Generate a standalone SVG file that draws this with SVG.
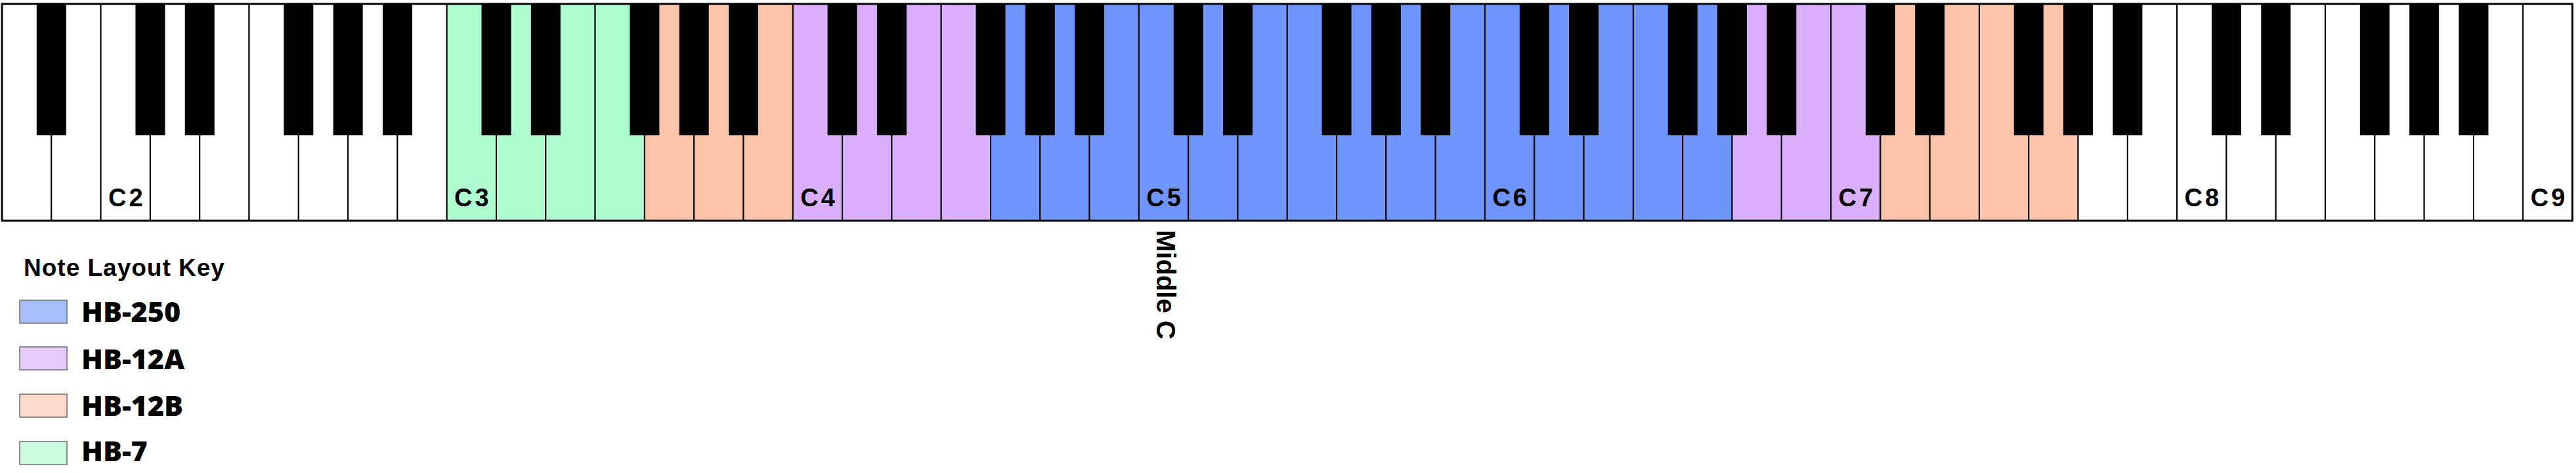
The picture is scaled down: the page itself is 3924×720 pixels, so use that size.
<svg xmlns="http://www.w3.org/2000/svg" width="3924" height="720" viewBox="0 0 3924 720">
<style>
.wk{stroke:#000;stroke-width:2}
.w{fill:#fff}.g{fill:#aefcd0}.p{fill:#fdc4aa}.v{fill:#dab0fc}.b{fill:#7095fd}
.bk{fill:#000}
.lbl{font-family:"Liberation Sans",Arial,sans-serif;font-weight:bold;font-size:38px;letter-spacing:4px;text-anchor:middle;fill:#000}
.leg{font-family:"Open Sans","Liberation Sans",sans-serif;font-weight:800;font-size:43px;fill:#000}
.sw{stroke:#6e6e6e;stroke-width:1.5}
</style>
<rect width="3924" height="720" fill="#fff"/>
<g id="white-keys">
<rect class="wk w" x="3" y="6" width="75.3" height="330"/>
<rect class="wk w" x="78.3" y="6" width="75.3" height="330"/>
<rect class="wk w" x="153.6" y="6" width="75.3" height="330"/>
<rect class="wk w" x="228.9" y="6" width="75.3" height="330"/>
<rect class="wk w" x="304.2" y="6" width="75.3" height="330"/>
<rect class="wk w" x="379.5" y="6" width="75.3" height="330"/>
<rect class="wk w" x="454.8" y="6" width="75.3" height="330"/>
<rect class="wk w" x="530.1" y="6" width="75.3" height="330"/>
<rect class="wk w" x="605.4" y="6" width="75.3" height="330"/>
<rect class="wk g" x="680.7" y="6" width="75.3" height="330"/>
<rect class="wk g" x="756" y="6" width="75.3" height="330"/>
<rect class="wk g" x="831.3" y="6" width="75.3" height="330"/>
<rect class="wk g" x="906.6" y="6" width="75.3" height="330"/>
<rect class="wk p" x="981.9" y="6" width="75.3" height="330"/>
<rect class="wk p" x="1057.2" y="6" width="75.3" height="330"/>
<rect class="wk p" x="1132.5" y="6" width="75.3" height="330"/>
<rect class="wk v" x="1207.8" y="6" width="75.3" height="330"/>
<rect class="wk v" x="1283.1" y="6" width="75.3" height="330"/>
<rect class="wk v" x="1358.4" y="6" width="75.3" height="330"/>
<rect class="wk v" x="1433.7" y="6" width="75.3" height="330"/>
<rect class="wk b" x="1509" y="6" width="75.3" height="330"/>
<rect class="wk b" x="1584.3" y="6" width="75.3" height="330"/>
<rect class="wk b" x="1659.6" y="6" width="75.3" height="330"/>
<rect class="wk b" x="1734.9" y="6" width="75.3" height="330"/>
<rect class="wk b" x="1810.2" y="6" width="75.3" height="330"/>
<rect class="wk b" x="1885.5" y="6" width="75.3" height="330"/>
<rect class="wk b" x="1960.8" y="6" width="75.3" height="330"/>
<rect class="wk b" x="2036.1" y="6" width="75.3" height="330"/>
<rect class="wk b" x="2111.4" y="6" width="75.3" height="330"/>
<rect class="wk b" x="2186.7" y="6" width="75.3" height="330"/>
<rect class="wk b" x="2262" y="6" width="75.3" height="330"/>
<rect class="wk b" x="2337.3" y="6" width="75.3" height="330"/>
<rect class="wk b" x="2412.6" y="6" width="75.3" height="330"/>
<rect class="wk b" x="2487.9" y="6" width="75.3" height="330"/>
<rect class="wk b" x="2563.2" y="6" width="75.3" height="330"/>
<rect class="wk v" x="2638.5" y="6" width="75.3" height="330"/>
<rect class="wk v" x="2713.8" y="6" width="75.3" height="330"/>
<rect class="wk v" x="2789.1" y="6" width="75.3" height="330"/>
<rect class="wk p" x="2864.4" y="6" width="75.3" height="330"/>
<rect class="wk p" x="2939.7" y="6" width="75.3" height="330"/>
<rect class="wk p" x="3015" y="6" width="75.3" height="330"/>
<rect class="wk p" x="3090.3" y="6" width="75.3" height="330"/>
<rect class="wk w" x="3165.6" y="6" width="75.3" height="330"/>
<rect class="wk w" x="3240.9" y="6" width="75.3" height="330"/>
<rect class="wk w" x="3316.2" y="6" width="75.3" height="330"/>
<rect class="wk w" x="3391.5" y="6" width="75.3" height="330"/>
<rect class="wk w" x="3466.8" y="6" width="75.3" height="330"/>
<rect class="wk w" x="3542.1" y="6" width="75.3" height="330"/>
<rect class="wk w" x="3617.4" y="6" width="75.3" height="330"/>
<rect class="wk w" x="3692.7" y="6" width="75.3" height="330"/>
<rect class="wk w" x="3768" y="6" width="75.3" height="330"/>
<rect class="wk w" x="3843.3" y="6" width="75.3" height="330"/>
</g>
<g id="black-keys">
<rect class="bk" x="55.8" y="6" width="45" height="200"/>
<rect class="bk" x="206.4" y="6" width="45" height="200"/>
<rect class="bk" x="281.7" y="6" width="45" height="200"/>
<rect class="bk" x="432.3" y="6" width="45" height="200"/>
<rect class="bk" x="507.6" y="6" width="45" height="200"/>
<rect class="bk" x="582.9" y="6" width="45" height="200"/>
<rect class="bk" x="733.5" y="6" width="45" height="200"/>
<rect class="bk" x="808.8" y="6" width="45" height="200"/>
<rect class="bk" x="959.4" y="6" width="45" height="200"/>
<rect class="bk" x="1034.7" y="6" width="45" height="200"/>
<rect class="bk" x="1110" y="6" width="45" height="200"/>
<rect class="bk" x="1260.6" y="6" width="45" height="200"/>
<rect class="bk" x="1335.9" y="6" width="45" height="200"/>
<rect class="bk" x="1486.5" y="6" width="45" height="200"/>
<rect class="bk" x="1561.8" y="6" width="45" height="200"/>
<rect class="bk" x="1637.1" y="6" width="45" height="200"/>
<rect class="bk" x="1787.7" y="6" width="45" height="200"/>
<rect class="bk" x="1863" y="6" width="45" height="200"/>
<rect class="bk" x="2013.6" y="6" width="45" height="200"/>
<rect class="bk" x="2088.9" y="6" width="45" height="200"/>
<rect class="bk" x="2164.2" y="6" width="45" height="200"/>
<rect class="bk" x="2314.8" y="6" width="45" height="200"/>
<rect class="bk" x="2390.1" y="6" width="45" height="200"/>
<rect class="bk" x="2540.7" y="6" width="45" height="200"/>
<rect class="bk" x="2616" y="6" width="45" height="200"/>
<rect class="bk" x="2691.3" y="6" width="45" height="200"/>
<rect class="bk" x="2841.9" y="6" width="45" height="200"/>
<rect class="bk" x="2917.2" y="6" width="45" height="200"/>
<rect class="bk" x="3067.8" y="6" width="45" height="200"/>
<rect class="bk" x="3143.1" y="6" width="45" height="200"/>
<rect class="bk" x="3218.4" y="6" width="45" height="200"/>
<rect class="bk" x="3369" y="6" width="45" height="200"/>
<rect class="bk" x="3444.3" y="6" width="45" height="200"/>
<rect class="bk" x="3594.9" y="6" width="45" height="200"/>
<rect class="bk" x="3670.2" y="6" width="45" height="200"/>
<rect class="bk" x="3745.5" y="6" width="45" height="200"/>
</g>
<rect id="outline" x="3" y="6" width="3915.6" height="330" fill="none" stroke="#000" stroke-width="3"/>
<g id="octave-labels">
<text class="lbl" x="193.3" y="314">C2</text>
<text class="lbl" x="720.4" y="314">C3</text>
<text class="lbl" x="1247.5" y="314">C4</text>
<text class="lbl" x="1774.6" y="314">C5</text>
<text class="lbl" x="2301.7" y="314">C6</text>
<text class="lbl" x="2828.8" y="314">C7</text>
<text class="lbl" x="3355.9" y="314">C8</text>
<text class="lbl" x="3883" y="314">C9</text>
</g>
<g id="middle-c">
<text transform="translate(1762,350) rotate(90)" font-family="Liberation Sans, Arial, sans-serif" font-weight="bold" font-size="40">Middle C</text>
</g>
<g id="legend">
<text x="36" y="420" font-family="Liberation Sans, Arial, sans-serif" font-weight="bold" font-size="37" letter-spacing="1">Note Layout Key</text>
<g id="key-hb250">
<rect class="sw" x="30" y="457" width="72" height="35" fill="#a8befa"/>
<text class="leg" x="124" y="490">HB-250</text>
</g>
<g id="key-hb12a">
<rect class="sw" x="30" y="528" width="72" height="35" fill="#e6ccfc"/>
<text class="leg" x="124" y="562">HB-12A</text>
</g>
<g id="key-hb12b">
<rect class="sw" x="30" y="600" width="72" height="35" fill="#fddaca"/>
<text class="leg" x="124" y="633">HB-12B</text>
</g>
<g id="key-hb7">
<rect class="sw" x="30" y="672" width="72" height="35" fill="#ccfce0"/>
<text class="leg" x="124" y="702">HB-7</text>
</g>
</g>
</svg>
